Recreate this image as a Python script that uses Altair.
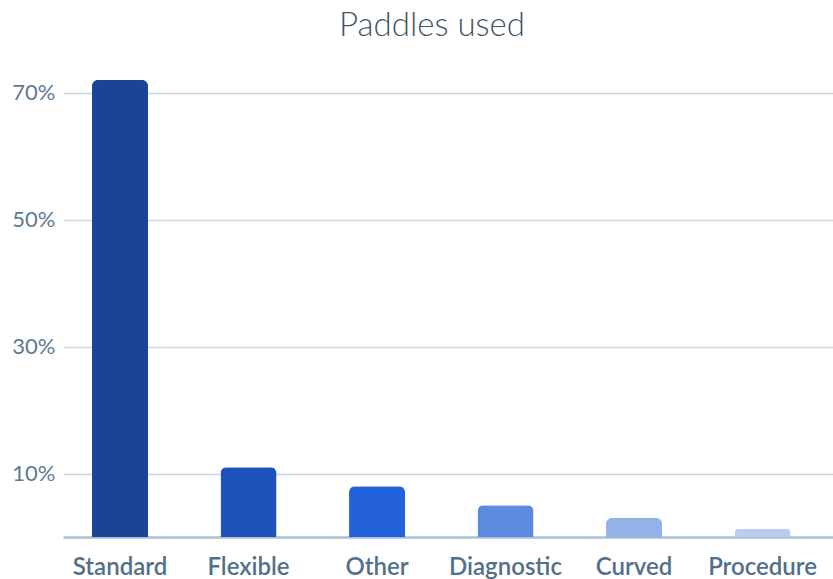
import altair as alt
import pandas as pd

categories = ["Standard", "Flexible", "Other", "Diagnostic", "Curved", "Procedure"]
values = [72, 11, 8, 5, 3, 1.3]
colors = ["#1a4494", "#1d52b8", "#2462dc", "#5c8ade", "#94b2e8", "#bacdf0"]
y_ticks = [0, 10, 30, 50, 70]

df = pd.DataFrame({"category": categories, "value": values})

bars = alt.Chart(df).mark_bar(
    cornerRadiusTopLeft=6, cornerRadiusTopRight=6
).encode(
    x=alt.X("category:N", sort=categories,
            scale=alt.Scale(paddingInner=0.5642, paddingOuter=0.278, align=0.406),
            axis=alt.Axis(title=None, labelAngle=0, ticks=False, domain=False,
                          labelFont="Lato", labelFontSize=24, labelFontWeight=600,
                          labelColor="#52708a", labelPadding=18)),
    y=alt.Y("value:Q", scale=alt.Scale(domain=[0, 75], nice=False),
            axis=alt.Axis(title=None, values=y_ticks, ticks=False, domain=False,
                          labelExpr="datum.value == 0 ? '' : datum.value + '%'",
                          labelFont="Lato", labelFontSize=22, labelColor="#5e7a93",
                          labelPadding=8,
                          gridColor={"condition": {"test": "datum.value === 0", "value": "#a9bfd6"}, "value": "#c8d8e8"},
                          gridWidth={"condition": {"test": "datum.value === 0", "value": 2.5}, "value": 1.5})),
    color=alt.Color("category:N", sort=categories,
                    scale=alt.Scale(domain=categories, range=colors), legend=None),
)

chart = bars.properties(
    width=770, height=476,
    title=alt.TitleParams("Paddles used", font="Lato", fontSize=33, fontWeight=300,
                          color="#3e5569", anchor="middle", dx=-16, offset=18),
    autosize=alt.AutoSizeParams(type="none"),
    padding={"left": 63, "top": 61, "right": 0, "bottom": 42},
).configure(background="white").configure_view(stroke="transparent", strokeWidth=0)

chart.save("out.html", embed_options={"renderer": "svg", "actions": False})
